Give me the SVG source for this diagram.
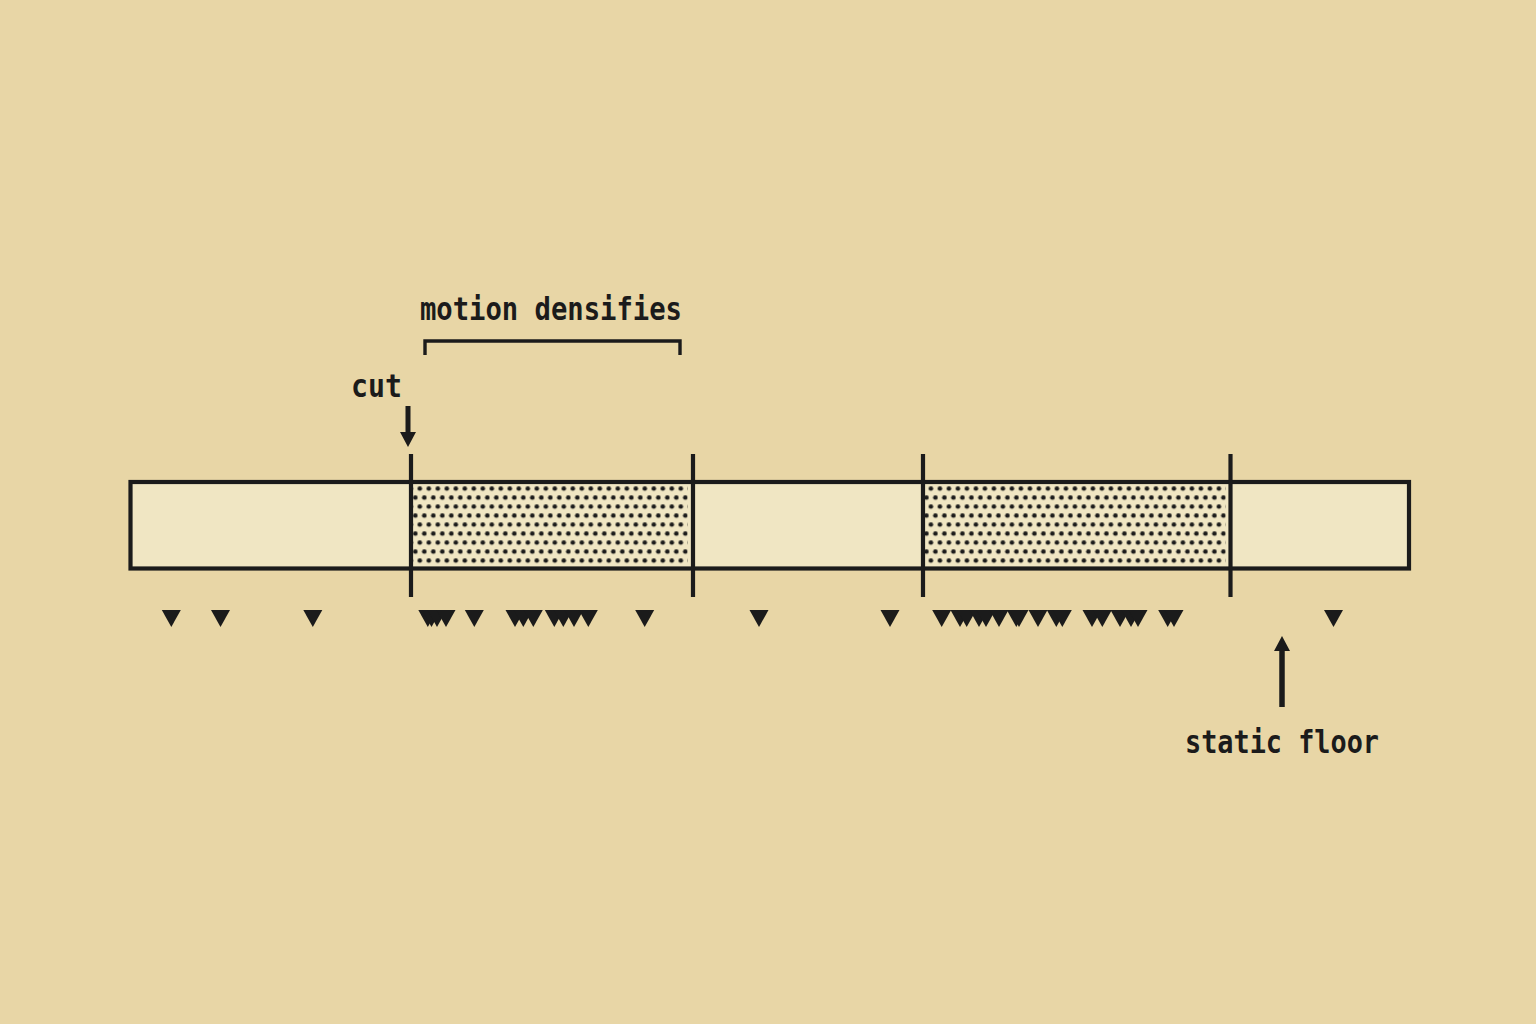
<svg xmlns="http://www.w3.org/2000/svg" xmlns:xlink="http://www.w3.org/1999/xlink" width="1536" height="1024" viewBox="0 0 1536 1024">
<style>
.ink{fill:#1b1b1b}
.line{stroke:#1b1b1b;fill:none}
.lbl{font-family:"DejaVu Sans Mono","Liberation Mono",monospace;font-size:29px;font-weight:700;fill:#1b1b1b}
</style>
<defs>
<pattern id="dots1" patternUnits="userSpaceOnUse" x="417.5" y="486.3" width="9" height="18">
<circle cx="2.3" cy="2.3" r="2.3" fill="#1b1b1b"/>
<circle cx="6.8" cy="11.3" r="2.3" fill="#1b1b1b"/>
</pattern>
<pattern id="dots2" patternUnits="userSpaceOnUse" x="928.6" y="486.3" width="9" height="18">
<circle cx="2.3" cy="2.3" r="2.3" fill="#1b1b1b"/>
<circle cx="6.8" cy="11.3" r="2.3" fill="#1b1b1b"/>
</pattern>
<path id="ev" d="M-9.5,0 H9.5 L0,17 Z" fill="#1b1b1b"/>
</defs>
<rect x="0" y="0" width="1536" height="1024" fill="#e8d6a6"/>
<g id="timeline">
<rect x="130.5" y="482" width="1278.5" height="86.5" fill="#f0e6c3"/>
<g id="segment-1"><rect x="130.5" y="482" width="280.5" height="86.5" fill="none"/></g>
<g id="segment-2"><rect x="413" y="484" width="274.7" height="82.5" fill="url(#dots1)"/></g>
<g id="segment-3"><rect x="693" y="482" width="230" height="86.5" fill="none"/></g>
<g id="segment-4"><rect x="925" y="484" width="300.7" height="82.5" fill="url(#dots2)"/></g>
<g id="segment-5"><rect x="1230.5" y="482" width="178.5" height="86.5" fill="none"/></g>
<rect x="130.5" y="482" width="1278.5" height="86.5" class="line" stroke-width="4.2"/>
<g class="line" stroke-width="4.2">
<line x1="411" y1="454" x2="411" y2="597"/>
<line x1="693" y1="454" x2="693" y2="597"/>
<line x1="923" y1="454" x2="923" y2="597"/>
<line x1="1230.5" y1="454" x2="1230.5" y2="597"/>
</g>
</g>
<g id="events">
<use href="#ev" x="171.3" y="610"/>
<use href="#ev" x="220.5" y="610"/>
<use href="#ev" x="312.8" y="610"/>
<use href="#ev" x="427.8" y="610"/>
<use href="#ev" x="431.5" y="610"/>
<use href="#ev" x="437" y="610"/>
<use href="#ev" x="446" y="610"/>
<use href="#ev" x="474.3" y="610"/>
<use href="#ev" x="515" y="610"/>
<use href="#ev" x="523.3" y="610"/>
<use href="#ev" x="533.3" y="610"/>
<use href="#ev" x="554.3" y="610"/>
<use href="#ev" x="563.3" y="610"/>
<use href="#ev" x="574" y="610"/>
<use href="#ev" x="588.3" y="610"/>
<use href="#ev" x="644.7" y="610"/>
<use href="#ev" x="759" y="610"/>
<use href="#ev" x="890" y="610"/>
<use href="#ev" x="941.7" y="610"/>
<use href="#ev" x="960" y="610"/>
<use href="#ev" x="966.7" y="610"/>
<use href="#ev" x="979" y="610"/>
<use href="#ev" x="986" y="610"/>
<use href="#ev" x="999" y="610"/>
<use href="#ev" x="1016.3" y="610"/>
<use href="#ev" x="1019" y="610"/>
<use href="#ev" x="1038" y="610"/>
<use href="#ev" x="1056.3" y="610"/>
<use href="#ev" x="1062.3" y="610"/>
<use href="#ev" x="1092" y="610"/>
<use href="#ev" x="1102.3" y="610"/>
<use href="#ev" x="1120" y="610"/>
<use href="#ev" x="1131" y="610"/>
<use href="#ev" x="1138" y="610"/>
<use href="#ev" x="1167.7" y="610"/>
<use href="#ev" x="1174" y="610"/>
<use href="#ev" x="1333.5" y="610"/>
</g>
<g id="connectors">
<path d="M425,355 V341 H680 V355" class="line" stroke-width="3.4"/>
<line x1="408" y1="406" x2="408" y2="434" class="line" stroke-width="5"/>
<polygon points="400,432 416,432 408,447" class="ink"/>
<line x1="1282" y1="649" x2="1282" y2="707" class="line" stroke-width="5.5"/>
<polygon points="1274,651 1290,651 1282,636" class="ink"/>
</g>
<g id="label-motion"><text class="lbl" transform="translate(420,320) scale(1,1.1)" textLength="262" lengthAdjust="spacingAndGlyphs">motion densifies</text></g>
<g id="label-cut"><text class="lbl" transform="translate(351,397) scale(1,1.1)" textLength="51" lengthAdjust="spacingAndGlyphs">cut</text></g>
<g id="label-static"><text class="lbl" transform="translate(1185,753) scale(1,1.1)" textLength="194" lengthAdjust="spacingAndGlyphs">static floor</text></g>
</svg>
